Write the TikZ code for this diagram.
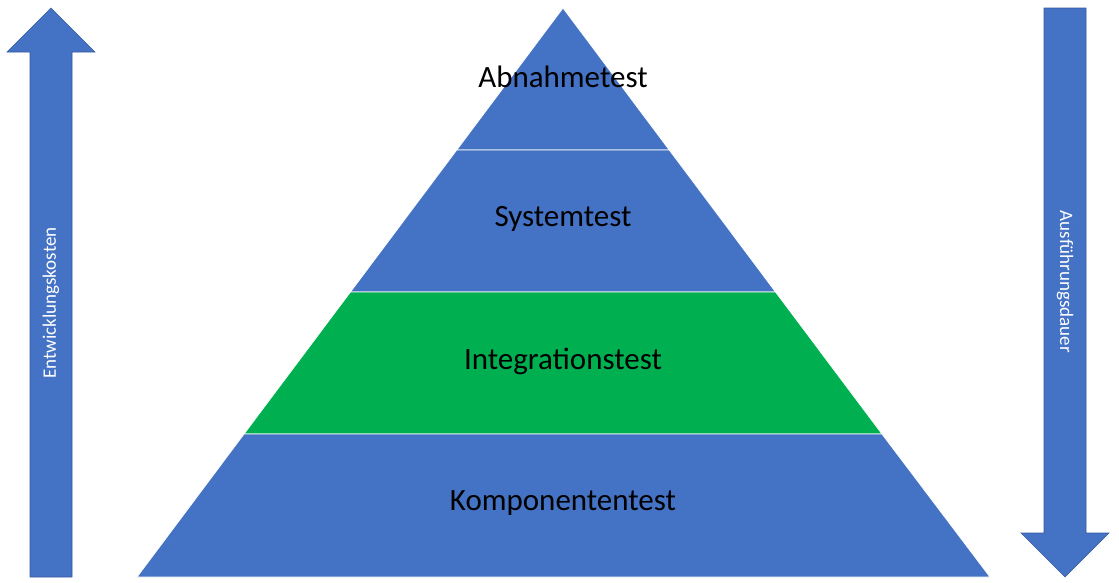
\documentclass[tikz,border=0pt]{standalone}
\usepackage{fontspec}
\setmainfont{Carlito}
\definecolor{bl}{HTML}{4472C4}
\definecolor{gr}{HTML}{00B050}
\begin{document}
\begin{tikzpicture}[x=1pt,y=-1pt,
 lvl/.style={fill=#1,draw=white,line width=0.8pt},
 lab/.style={font=\fontsize{31}{36}\selectfont,text=black},
 arr/.style={fill=bl,draw=bl!80!black,line width=0.6pt},
 side/.style={font=\fontsize{19}{22}\selectfont,text=white}]
\useasboundingbox (0,0) rectangle (1119,582);
\path[lvl=bl] (563,8) -- (669.3,150) -- (456.7,150) -- cycle;
\path[lvl=bl] (456.7,150) -- (669.3,150) -- (775.6,292) -- (350.4,292) -- cycle;
\path[lvl=gr] (350.4,292) -- (775.6,292) -- (882,434) -- (244,434) -- cycle;
\path[lvl=bl] (244,434) -- (882,434) -- (990,577) -- (137,577) -- cycle;
\node[lab] (a) at (563,77) {Abnahmetest};
\node[lab] (s) at (563,219) {Systemtest};
\node[lab] (i) at (563,361) {Integrationstest};
\node[lab] (k) at (563,503) {Komponententest};
\path[arr] (51,8) -- (95,52) -- (72,52) -- (72,577) -- (30,577) -- (30,52) -- (7,52) -- cycle;
\path[arr] (1065,577) -- (1109,533) -- (1086,533) -- (1086,8) -- (1044,8) -- (1044,533) -- (1021,533) -- cycle;
\node[side,rotate=90] (e) at (51,303) {Entwicklungskosten};
\node[side,rotate=-90] (d) at (1065,282) {Ausführungsdauer};
\end{tikzpicture}
\end{document}
